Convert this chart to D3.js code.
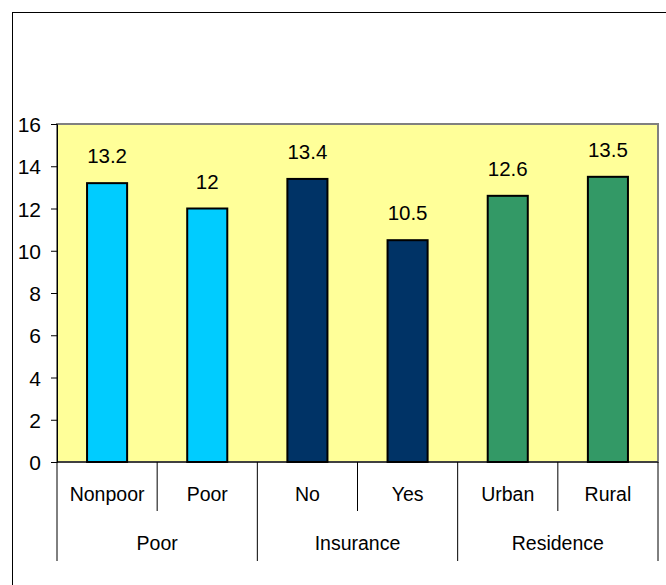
<!DOCTYPE html>
<html>
<style>
body { margin: 0; background: #fff; }
text { font-family: "Liberation Sans", Arial, sans-serif; fill: #000; }
</style>
<body>
<svg width="666" height="585"></svg>
<script src="https://cdn.jsdelivr.net/npm/d3@7"></script>
<script>
var categories = ["Nonpoor", "Poor", "No", "Yes", "Urban", "Rural"];
var groups = ["Poor", "Poor", "Insurance", "Insurance", "Residence", "Residence"];
var values = [13.2, 12, 13.4, 10.5, 12.6, 13.5];
var groupNames = ["Poor", "Insurance", "Residence"];
var yTicks = [0, 2, 4, 6, 8, 10, 12, 14, 16];
var groupColor = { "Poor": "#00ccff", "Insurance": "#003366", "Residence": "#339966" };

var svg = d3.select("svg");
var plotLeft = 57, plotRight = 658, plotTop = 124, plotBottom = 462;

// outer chart border
svg.append("rect")
    .attr("x", 12.5).attr("y", 12.5)
    .attr("width", 700).attr("height", 700)
    .attr("fill", "#fff").attr("stroke", "#000").attr("stroke-width", 1);

var x = d3.scaleBand().domain(d3.range(categories.length)).range([plotLeft, plotRight]).paddingInner(0);
var y = d3.scaleLinear().domain([0, 16]).range([plotBottom, plotTop]);

svg.append("rect")
    .attr("x", plotLeft).attr("y", plotTop)
    .attr("width", plotRight - plotLeft).attr("height", plotBottom - plotTop)
    .attr("fill", "#ffff99").attr("stroke", "#808080").attr("stroke-width", 2);

var bw = x.bandwidth() * 0.4;
svg.selectAll(".bar")
    .data(values)
    .enter().append("rect")
    .attr("class", "bar")
    .attr("x", function(d, i) { return x(i) + (x.bandwidth() - bw) / 2; })
    .attr("y", function(d) { return y(d); })
    .attr("width", bw)
    .attr("height", function(d) { return y(0) - y(d); })
    .attr("fill", function(d, i) { return groupColor[groups[i]]; })
    .attr("stroke", "#000").attr("stroke-width", 2);

svg.selectAll(".val")
    .data(values)
    .enter().append("text")
    .attr("class", "val")
    .attr("x", function(d, i) { return x(i) + x.bandwidth() / 2; })
    .attr("y", function(d) { return y(d) - 20; })
    .attr("text-anchor", "middle")
    .style("font-size", "20.5px")
    .text(function(d) { return d; });

// y axis
var yAxis = d3.axisLeft(y).tickValues(yTicks).tickSize(6).tickPadding(10);
var ga = svg.append("g").attr("transform", "translate(" + plotLeft + ",0)").call(yAxis);
ga.select(".domain").attr("stroke", "#000");
ga.selectAll(".tick line").attr("stroke", "#000");
ga.selectAll(".tick text").style("font-size", "21px").attr("dy", "0.36em")
    .style("font-family", "'Liberation Sans', Arial, sans-serif");

// category axis, two levels
svg.append("line").attr("x1", plotLeft).attr("x2", plotRight)
    .attr("y1", plotBottom).attr("y2", plotBottom).attr("stroke", "#000");
var catEdges = d3.range(categories.length + 1).map(function(i) { return plotLeft + i * x.bandwidth(); });
svg.selectAll(".cattick")
    .data(catEdges)
    .enter().append("line")
    .attr("x1", function(d) { return d; }).attr("x2", function(d) { return d; })
    .attr("y1", plotBottom)
    .attr("y2", function(d, i) { return i % 2 === 0 ? 561 : 511; })
    .attr("stroke", "#000");

svg.selectAll(".cat")
    .data(categories)
    .enter().append("text")
    .attr("x", function(d, i) { return x(i) + x.bandwidth() / 2; })
    .attr("y", 501)
    .attr("text-anchor", "middle")
    .style("font-size", "19.5px")
    .text(function(d) { return d; });

svg.selectAll(".grp")
    .data(groupNames)
    .enter().append("text")
    .attr("x", function(d, i) { return x(i * 2) + x.bandwidth(); })
    .attr("y", 550)
    .attr("text-anchor", "middle")
    .style("font-size", "19.5px")
    .text(function(d) { return d; });
</script>
</body>
</html>
